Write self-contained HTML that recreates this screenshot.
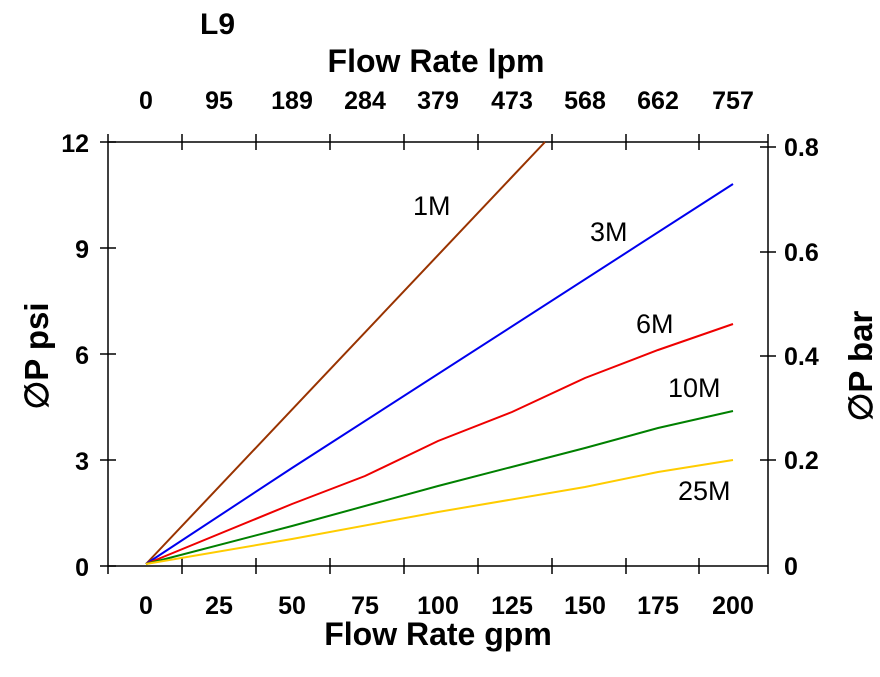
<!DOCTYPE html>
<html><head><style>
body{margin:0;background:#fff;}
svg text{font-family:"Liberation Sans",Arial,sans-serif;font-weight:bold;fill:#000;}
</style></head><body>
<svg width="880" height="672" viewBox="0 0 880 672" xmlns="http://www.w3.org/2000/svg">
<rect width="880" height="672" fill="#fff"/>
<g stroke="#000" stroke-width="1.5" fill="none">
<line x1="108" y1="142" x2="768" y2="142"/>
<line x1="108" y1="566" x2="768" y2="566"/>
<line x1="108" y1="134" x2="108" y2="574"/>
<line x1="768" y1="134" x2="768" y2="574"/>
<path d="M182 134V150M256 134V150M330 134V150M404 134V150M478 134V150M552 134V150M626 134V150M699 134V150"/>
<path d="M182 558V574M256 558V574M330 558V574M404 558V574M478 558V574M552 558V574M626 558V574M699 558V574"/>
<path d="M100 142H116M100 248H116M100 354H116M100 460H116M100 566H116"/>
<path d="M760 147H776M760 252H776M760 356H776M760 460H776"/>
</g>
<g fill="none" stroke-width="2">
<polyline stroke="#993300" points="146,564 545,142"/>
<polyline stroke="#0000ee" points="146,564 292,468 733,184"/>
<polyline stroke="#ee0000" points="146,564 292,504 365,476 438,441 512,412 585,378 658,350 733,324"/>
<polyline stroke="#008000" points="146,564 292,526 438,486 585,448 658,428 733,411"/>
<polyline stroke="#ffcc00" points="146,564 292,539 438,512 585,487 658,472 733,460"/>
</g>
<g font-size="25" text-anchor="middle">
<text x="146" y="109">0</text><text x="219" y="109">95</text><text x="292" y="109">189</text>
<text x="365" y="109">284</text><text x="438" y="109">379</text><text x="512" y="109">473</text>
<text x="585" y="109">568</text><text x="658" y="109">662</text><text x="733" y="109">757</text>
<text x="146" y="614">0</text><text x="219" y="614">25</text><text x="292" y="614">50</text>
<text x="365" y="614">75</text><text x="438" y="614">100</text><text x="512" y="614">125</text>
<text x="585" y="614">150</text><text x="658" y="614">175</text><text x="733" y="614">200</text>
</g>
<g font-size="25" text-anchor="end">
<text x="89" y="152">12</text><text x="89" y="258">9</text><text x="89" y="364">6</text>
<text x="89" y="470">3</text><text x="89" y="576">0</text>
</g>
<g font-size="25" text-anchor="start">
<text x="784" y="156">0.8</text><text x="784" y="261">0.6</text><text x="784" y="365">0.4</text>
<text x="784" y="469">0.2</text><text x="784" y="575">0</text>
</g>
<text x="436" y="72" font-size="32" text-anchor="middle">Flow Rate lpm</text>
<text x="438" y="645" font-size="32" text-anchor="middle">Flow Rate gpm</text>
<text x="200" y="34" font-size="30">L9</text>
<text transform="translate(48,356) rotate(-90)" font-size="33" text-anchor="middle">∅P psi</text>
<text transform="translate(872,366) rotate(-90)" font-size="33" text-anchor="middle">∅P bar</text>
<g font-size="27">
<text x="413" y="215" style="font-weight:normal">1M</text>
<text x="590" y="241" style="font-weight:normal">3M</text>
<text x="636" y="333" style="font-weight:normal">6M</text>
<text x="668" y="397" style="font-weight:normal">10M</text>
<text x="678" y="500" style="font-weight:normal">25M</text>
</g>
</svg>
</body></html>
